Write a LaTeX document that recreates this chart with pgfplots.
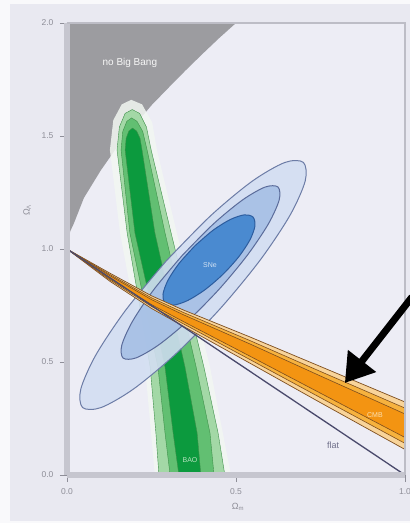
\documentclass[border=0pt]{standalone}
\usepackage{fontspec}
\setmainfont{Liberation Sans}
\usepackage{pgfplots}
\pgfplotsset{compat=1.18}
\usetikzlibrary{arrows.meta}
\definecolor{bgout}{HTML}{E9E9F1}
\definecolor{bgin}{HTML}{EDEDF5}
\definecolor{framec}{HTML}{C6C6CF}
\definecolor{framec2}{HTML}{BDBDC6}
\definecolor{tickc}{HTML}{8E8E98}
\definecolor{nbb}{HTML}{9C9CA0}
\definecolor{baohalo}{HTML}{F2F7F2}
\definecolor{baoout}{HTML}{A3D8A6}
\definecolor{baomid}{HTML}{62BF72}
\definecolor{baocore}{HTML}{0C9A3E}
\definecolor{baoline}{HTML}{3F8F4A}
\definecolor{snthree}{HTML}{D3DEF2}
\definecolor{sntwo}{HTML}{A8C1E6}
\definecolor{snone}{HTML}{4A8AD0}
\definecolor{snlthree}{HTML}{6C7CA6}
\definecolor{snltwo}{HTML}{5A6B9A}
\definecolor{snlone}{HTML}{2C5C9E}
\definecolor{cmbout}{HTML}{F8D49A}
\definecolor{cmbmid}{HTML}{F6B23E}
\definecolor{cmbcore}{HTML}{F39412}
\definecolor{cmbline}{HTML}{7E4E1E}
\definecolor{flatc}{HTML}{4A4A6C}
\begin{document}
\begin{tikzpicture}[x=1pt,y=1pt]
\fill[white!75!bgout] (0,0) rectangle (410,523);
\fill[bgout] (10,2) rectangle (410,519);
\begin{axis}[
  at={(67pt,48pt)}, anchor=south west,
  scale only axis, width=338pt, height=452pt,
  xmin=0, xmax=1, ymin=0, ymax=2,
  clip=false,
  axis background/.style={fill=bgin},
  axis line style={draw=none},
  xtick={0,0.5,1}, ytick={0,0.5,1,1.5,2},
  tick pos=left, tick align=outside, major tick length=7pt,
  tick style={draw=tickc, line width=0.8pt},
  /pgf/number format/fixed, /pgf/number format/fixed zerofill,
  /pgf/number format/precision=1, /pgf/number format/assume math mode=true,
  ticklabel style={font=\fontsize{8.5}{9}\selectfont, text=tickc},
  yticklabel style={xshift=-3pt},
  xticklabel style={yshift=-3pt},
  xlabel={Ω\textsubscript{m}}, ylabel={Ω\textsubscript{Λ}},
  xlabel style={at={(axis description cs:0.506,-0.071)}, anchor=center, font=\fontsize{9}{10}\selectfont, text=tickc},
  ylabel style={at={(axis description cs:-0.118,0.586)}, anchor=center, font=\fontsize{9}{10}\selectfont, text=tickc},
]
% no Big Bang region
\addplot[fill=nbb, draw=none] coordinates {(0,2) (0.5,2) (0.45,1.933) (0.4,1.862) (0.35,1.789) (0.3,1.713) (0.25,1.636) (0.2,1.547) (0.15,1.455) (0.1,1.348) (0.05,1.226) (0.02,1.112) (0.01,1.08) (0.005,1.049) (0.001,1.018) (0,1)};
% BAO band
\addplot[fill=baohalo, draw=none, fill opacity=0.85] coordinates {(0.260,0) (0.231,0.478) (0.157,1.071) (0.127,1.438) (0.137,1.57) (0.162,1.64) (0.19,1.66) (0.222,1.64) (0.252,1.56) (0.266,1.438) (0.325,1.071) (0.423,0.478) (0.485,0)};
\addplot[fill=baoout, draw=baoline, line width=0.4pt] coordinates {(0.272,0) (0.263,0.186) (0.246,0.478) (0.178,1.071) (0.148,1.438) (0.155,1.54) (0.172,1.60) (0.193,1.617) (0.215,1.60) (0.235,1.54) (0.249,1.438) (0.308,1.071) (0.405,0.478) (0.447,0.186) (0.467,0)};
\addplot[fill=baomid, draw=baoline, line width=0.4pt] coordinates {(0.305,0) (0.290,0.186) (0.269,0.478) (0.186,1.071) (0.160,1.438) (0.165,1.52) (0.177,1.565) (0.191,1.58) (0.207,1.565) (0.224,1.52) (0.237,1.438) (0.290,1.071) (0.382,0.478) (0.423,0.186) (0.435,0)};
\addplot[fill=baocore, draw=baoline, line width=0.4pt] coordinates {(0.331,0) (0.314,0.186) (0.290,0.478) (0.201,1.071) (0.172,1.438) (0.175,1.49) (0.183,1.522) (0.194,1.535) (0.206,1.522) (0.216,1.49) (0.222,1.438) (0.260,1.071) (0.349,0.478) (0.385,0.186) (0.396,0)};
% SNe contours
\addplot[smooth, fill=snthree, fill opacity=0.9, draw=snlthree, line width=1pt] coordinates {(0.2937,0.9473) (0.1747,0.7316) (0.0859,0.5325) (0.0408,0.3803) (0.0462,0.2982) (0.1014,0.2987) (0.1979,0.3817) (0.3209,0.5346) (0.4520,0.7341) (0.5709,0.9498) (0.6597,1.1489) (0.7048,1.3011) (0.6994,1.3832) (0.6442,1.3827) (0.5477,1.2997) (0.4247,1.1468) (0.2937,0.9473)};
\addplot[smooth, fill=sntwo, fill opacity=0.95, draw=snltwo, line width=1pt] coordinates {(0.3402,0.9703) (0.2566,0.8199) (0.1942,0.6810) (0.1622,0.5749) (0.1657,0.5177) (0.2042,0.5181) (0.2716,0.5760) (0.3578,0.6825) (0.4498,0.8217) (0.5334,0.9721) (0.5958,1.1110) (0.6278,1.2171) (0.6243,1.2743) (0.5858,1.2739) (0.5184,1.2160) (0.4322,1.1095) (0.3402,0.9703)};
\addplot[smooth, fill=snone, draw=snlone, line width=1pt] coordinates {(0.3788,1.0146) (0.3321,0.9371) (0.2988,0.8618) (0.2840,0.8000) (0.2899,0.7613) (0.3156,0.7516) (0.3572,0.7722) (0.4085,0.8201) (0.4614,0.8880) (0.5081,0.9655) (0.5414,1.0408) (0.5562,1.1026) (0.5503,1.1413) (0.5246,1.1510) (0.4830,1.1304) (0.4317,1.0825) (0.3788,1.0146)};
% CMB band
\addplot[fill=cmbout, draw=cmbline, line width=0.7pt] coordinates {(0,1.0) (0.127,0.893) (0.25,0.793) (0.343,0.731) (0.541,0.611) (0.75,0.48) (1.0,0.323) (1.0,0.113) (0.75,0.32) (0.541,0.495) (0.343,0.659) (0.25,0.737) (0.127,0.857)} -- cycle;
\addplot[fill=cmbmid, draw=cmbline, line width=0.6pt] coordinates {(0,1.0) (0.127,0.887) (0.25,0.784) (0.343,0.72) (0.541,0.595) (0.75,0.458) (1.0,0.296) (1.0,0.14) (0.75,0.342) (0.541,0.511) (0.343,0.67) (0.25,0.746) (0.127,0.863)} -- cycle;
\addplot[fill=cmbcore, draw=cmbline, line width=0.6pt] coordinates {(0,1.0) (0.127,0.882) (0.25,0.776) (0.343,0.71) (0.541,0.58) (0.75,0.438) (1.0,0.27) (1.0,0.166) (0.75,0.362) (0.541,0.526) (0.343,0.68) (0.25,0.754) (0.127,0.868)} -- cycle;
% flat line
\addplot[draw=flatc, line width=1.3pt] coordinates {(0,1) (1,0)};
% labels
\node[text=white!92!nbb, font=\fontsize{10}{11}\selectfont] at (axis cs:0.186,1.823) {no Big Bang};
\node[text=flatc!80!white, font=\fontsize{9}{10}\selectfont] at (axis cs:0.787,0.133) {flat};
\node[text=white!75!snone, font=\fontsize{7}{8}\selectfont] at (axis cs:0.423,0.929) {SNe};
\node[text=white!55!baomid, font=\fontsize{7}{8}\selectfont] at (axis cs:0.364,0.066) {BAO};
\node[text=white!60!cmbmid, font=\fontsize{7}{8}\selectfont] at (axis cs:0.911,0.265) {CMB};
% frame
\draw[framec, line width=6pt] (rel axis cs:0,0) -- (rel axis cs:0,1);
\draw[framec, line width=6pt] (rel axis cs:0,0) -- (rel axis cs:1,0);
\draw[framec2, line width=2.5pt] (rel axis cs:0,1) -- (rel axis cs:1,1) -- (rel axis cs:1,0);
% arrow
\draw[black, line width=7pt, -{Triangle[length=28pt,width=34pt]}] (axis cs:1.021,0.788) -- (axis cs:0.822,0.407);
\end{axis}
\pgfresetboundingbox
\useasboundingbox (0,0) rectangle (410,523);
\end{tikzpicture}
\end{document}
